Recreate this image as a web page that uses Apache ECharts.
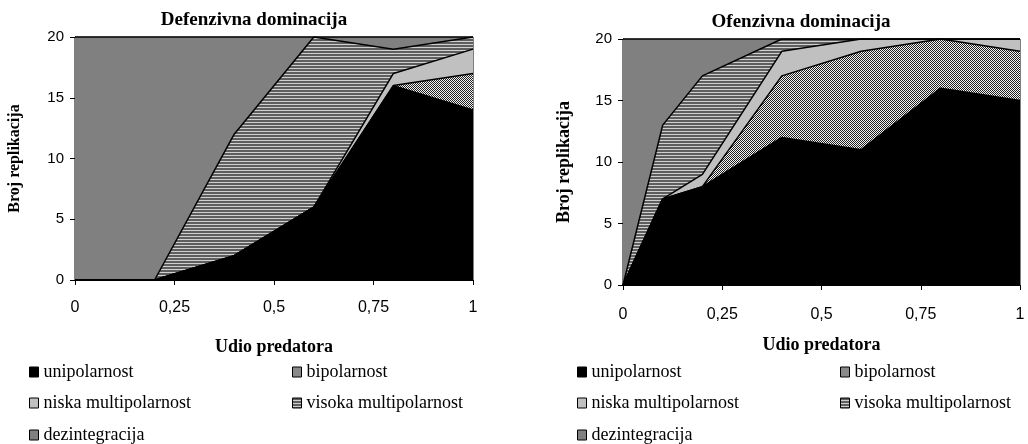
<!DOCTYPE html>
<html><head><meta charset="utf-8">
<script src="https://cdn.jsdelivr.net/npm/echarts@6/dist/echarts.min.js"></script>
<style>html,body{margin:0;padding:0;background:#fff}#c{width:1028px;height:444px}</style>
</head><body><div id="c"></div>
<script>
// ---- data ----
const xValues = [0, 0.1, 0.2, 0.4, 0.6, 0.8, 1];
const seriesNames = ['unipolarnost', 'bipolarnost', 'niska multipolarnost', 'visoka multipolarnost', 'dezintegracija'];
// Defenzivna dominacija
const defUni    = [0, 0, 0, 2, 6, 16, 14];
const defBi     = [0, 0, 0, 0, 0, 0, 3];
const defNiska  = [0, 0, 0, 0, 0, 1, 2];
const defVisoka = [0, 0, 0, 10, 14, 2, 1];
const defDez    = [20, 20, 20, 8, 0, 1, 0];
// Ofenzivna dominacija
const ofUni    = [0, 7, 8, 12, 11, 16, 15];
const ofBi     = [0, 0, 0, 5, 8, 4, 4];
const ofNiska  = [0, 0, 1, 2, 1, 0, 1];
const ofVisoka = [0, 6, 8, 1, 0, 0, 0];
const ofDez    = [20, 7, 3, 0, 0, 0, 0];
const yTicks = [0, 5, 10, 15, 20];
const xTicks = [0, 0.25, 0.5, 0.75, 1];

// ---- styles ----
function pat(w, h, draw) {
  const c = document.createElement('canvas'); c.width = w; c.height = h;
  draw(c.getContext('2d'));
  return { image: c, repeat: 'repeat' };
}
const fills = [
  '#000000',
  pat(4, 4, g => {
    g.fillStyle = '#f4f4f4'; g.fillRect(0, 0, 4, 4); g.fillStyle = '#202020';
    for (let y = 0; y < 4; y++) for (let x = 0; x < 4; x++) if ((x + y) % 2 === 0) g.fillRect(x, y, 1, 1);
  }),
  '#c0c0c0',
  pat(4, 3, g => { g.fillStyle = '#5e5e5e'; g.fillRect(0, 0, 4, 2); g.fillStyle = '#cfcfcf'; g.fillRect(0, 2, 4, 1); }),
  '#808080'
];
const serif = 'Liberation Serif';
const sans = 'Liberation Sans';

function buildSeries(layers, idx) {
  const cum = [];
  let run = xValues.map(() => 0);
  layers.forEach(arr => { run = run.map((v, i) => v + arr[i]); cum.push(run.slice()); });
  const out = [];
  for (let k = layers.length - 1; k >= 0; k--) {
    out.push({
      type: 'line', name: seriesNames[k], xAxisIndex: idx, yAxisIndex: idx,
      symbol: 'none', silent: true, animation: false,
      data: xValues.map((x, i) => [x, cum[k][i]]),
      lineStyle: { color: '#000', width: 1.5 },
      itemStyle: { color: fills[k] },
      areaStyle: { color: fills[k], opacity: 1 },
      emphasis: { disabled: true }
    });
  }
  return out;
}

function xAxis(idx, margin, nameGap) {
  return {
    type: 'value', gridIndex: idx, min: xTicks[0], max: xTicks[xTicks.length - 1], interval: xTicks[1] - xTicks[0],
    splitLine: { show: false },
    axisLine: { show: true, lineStyle: { color: '#000', width: 1 } },
    axisTick: { show: true, length: 5, lineStyle: { color: '#000' } },
    axisLabel: { margin: margin, color: '#000', fontFamily: sans, fontSize: 16, formatter: v => String(v).replace('.', ',') },
    name: 'Udio predatora', nameLocation: 'middle', nameGap: nameGap,
    nameTextStyle: { fontFamily: serif, fontWeight: 'bold', fontSize: 18, color: '#000' }
  };
}
function yAxis(idx, nameGap, nameSize) {
  return {
    type: 'value', gridIndex: idx, min: yTicks[0], max: yTicks[yTicks.length - 1], interval: yTicks[1] - yTicks[0],
    splitLine: { show: false },
    axisLine: { show: true, lineStyle: { color: '#000', width: 1 } },
    axisTick: { show: true, length: 5, lineStyle: { color: '#000' } },
    axisLabel: { margin: 11, color: '#000', fontFamily: sans, fontSize: 15 },
    name: 'Broj replikacija', nameLocation: 'middle', nameGap: nameGap, nameRotate: 90,
    nameTextStyle: { fontFamily: serif, fontWeight: 'bold', fontSize: nameSize, color: '#000' }
  };
}
function legendItem(left, top, k) {
  return {
    left: left, top: top, orient: 'horizontal', selectedMode: false, padding: 0,
    data: [{ name: seriesNames[k], itemStyle: { color: fills[k] } }],
    icon: 'rect', itemWidth: 9, itemHeight: 10, itemTextGap: 4,
    itemStyle: { borderColor: '#000', borderWidth: 1 },
    textStyle: { fontFamily: serif, fontSize: 18, lineHeight: 18, color: '#000' }
  };
}
const rowTops = [363, 394, 426];
const legends = [];
[[29, 292], [577, 840]].forEach(cols => {
  legends.push(legendItem(cols[0], rowTops[0], 0));
  legends.push(legendItem(cols[1], rowTops[0], 1));
  legends.push(legendItem(cols[0], rowTops[1], 2));
  legends.push(legendItem(cols[1], rowTops[1], 3));
  legends.push(legendItem(cols[0], rowTops[2], 4));
});

const option = {
  backgroundColor: '#fff',
  animation: false,
  title: [
    { text: 'Defenzivna dominacija', left: 249, top: 6, textAlign: 'center',
      textStyle: { fontFamily: serif, fontWeight: 'bold', fontSize: 19, color: '#000' } },
    { text: 'Ofenzivna dominacija', left: 796, top: 8, textAlign: 'center',
      textStyle: { fontFamily: serif, fontWeight: 'bold', fontSize: 19, color: '#000' } }
  ],
  grid: [
    { left: 75, right: 555, top: 37, bottom: 164, show: true, borderColor: '#000', borderWidth: 1, backgroundColor: 'transparent' },
    { left: 623, right: 8, top: 39, bottom: 159, show: true, borderColor: '#000', borderWidth: 1, backgroundColor: 'transparent' }
  ],
  xAxis: [xAxis(0, 20, 58), xAxis(1, 22, 51)],
  yAxis: [yAxis(0, 52, 16), yAxis(1, 50, 18)],
  legend: legends,
  series: [].concat(
    buildSeries([defUni, defBi, defNiska, defVisoka, defDez], 0),
    buildSeries([ofUni, ofBi, ofNiska, ofVisoka, ofDez], 1)
  )
};
const chart = echarts.init(document.getElementById('c'), null, { renderer: 'canvas' });
chart.setOption(option);
</script>
</body></html>
